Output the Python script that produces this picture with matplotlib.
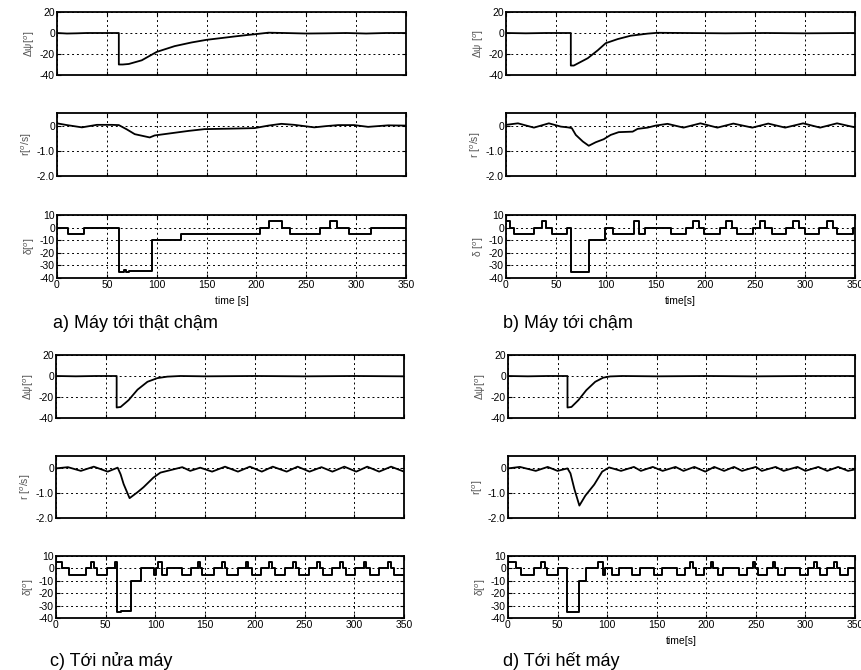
import matplotlib
matplotlib.use("Agg")
import matplotlib.pyplot as plt

plt.rcParams["font.family"] = ["Liberation Sans", "DejaVu Sans"]
plt.rcParams["mathtext.fontset"] = "custom"
plt.rcParams["mathtext.rm"] = "Liberation Sans"

W, H = 862, 670

# ---- a) Máy tới thật chậm
psi_a_t = [0, 10, 20, 30, 40, 50, 62, 62, 66, 72, 85, 100, 118, 135, 150, 165, 178, 190, 200, 212, 228, 250, 270, 290, 310, 330, 350]
psi_a_v = [0, -0.5, -0.3, 0, 0, 0, 0, -30, -30, -29.5, -26, -18, -12.5, -9, -6.5, -4.8, -3.3, -2, -1, 0.3, 0, -0.5, -0.3, 0, -0.5, 0, 0]
r_a_t = [0, 10, 25, 40, 55, 62, 70, 78, 93, 98, 115, 132, 148, 175, 198, 212, 225, 238, 258, 270, 282, 298, 312, 332, 350]
r_a_v = [0.09, 0.02, -0.07, 0.03, 0.03, 0.02, -0.15, -0.34, -0.47, -0.39, -0.3, -0.21, -0.14, -0.12, -0.1, 0.0, 0.07, 0.03, -0.07, -0.02, 0.02, 0.02, -0.05, 0.01, 0.0]
d_a_t = [0, 11, 27, 62, 67, 69, 72, 95, 124, 204, 213, 226, 234, 264, 274, 281, 293, 315, 350]
d_a_v = [0, -5, 0, -35, -34, -35, -34.5, -10, -5, 0, 5, 0, -5, 0, 5, 0, -5, 0, 0]

# ---- b) Máy tới chậm
psi_b_t = [0, 20, 40, 65, 65, 68, 82, 92, 100, 112, 125, 142, 152, 180, 220, 260, 300, 350]
psi_b_v = [0, -0.3, 0, 0, -31, -31, -24, -16.5, -9.7, -5.8, -2.6, -0.6, 0.2, 0, -0.3, 0, -0.3, 0]
r_b_t = [0, 12, 28, 43, 55, 62, 66, 70, 77, 83, 90, 98, 105, 113, 127, 132, 142, 150, 162, 178, 195, 212, 228, 247, 263, 280, 298, 315, 332, 350]
r_b_v = [0.03, 0.09, -0.08, 0.09, -0.04, -0.07, -0.1, -0.37, -0.63, -0.8, -0.66, -0.54, -0.37, -0.26, -0.24, -0.13, -0.08, 0.0, 0.07, -0.08, 0.09, -0.08, 0.08, -0.08, 0.08, -0.08, 0.09, -0.08, 0.09, -0.07]
d_b_t = [0, 4.3, 8.3, 27.7, 35.7, 40.3, 45.7, 61, 65, 83.3, 99, 107.7, 128.3, 133, 139, 165.7, 181, 187.3, 193.3, 198.3,
         214.3, 221, 226.7, 231.7, 247.7, 254.3, 260, 266.7, 281, 288.3, 294.3, 300, 314.3, 321.7, 328.3, 332.3, 347.7, 350]
d_b_v = [5, 0, -5, 0, 5, 0, -5, 0, -35, -10, 0, -5, 5, -5, 0, -5, 0, 5, 0, -5,
         0, 5, 0, -5, 0, 5, 0, -5, 0, 5, 0, -5, 0, 5, 0, -5, 0, 0]

# ---- c) Tới nửa máy
psi_c_t = [0, 20, 40, 61, 61, 65, 73, 82, 92, 102, 112, 125, 150, 200, 250, 300, 350]
psi_c_v = [0, -0.3, 0, 0, -30, -29.5, -23, -13, -5.5, -2, -0.6, 0, -0.3, 0, -0.3, 0, -0.3]
r_c_t = [0, 12, 25, 38, 52, 62, 65, 68, 74, 82, 88, 98, 105, 112, 127, 135, 145, 157, 170, 183, 195, 207, 218, 232, 243, 255, 267, 278, 290, 302, 313, 325, 337, 350]
r_c_v = [0, 0.05, -0.1, 0.07, -0.13, 0.03, -0.24, -0.63, -1.2, -0.96, -0.76, -0.37, -0.17, -0.1, 0.05, -0.1, 0.03, -0.13, 0.07, -0.13, 0.07, -0.13, 0.07, -0.13, 0.07, -0.13, 0.05, -0.13, 0.07, -0.13, 0.07, -0.13, 0.07, -0.13]
d_c_t = [0, 5.7, 13, 30, 35.5, 38, 41.5, 51, 59, 61, 65, 75, 85, 99, 101, 103, 107, 112, 127, 136,
         143, 145, 147, 158.5, 167, 170, 172, 182.6, 191, 193.6, 197, 206, 214.7, 217, 220.4, 230.4, 238.7, 241, 244.5, 254,
         263, 265.5, 269, 278, 286, 288.5, 292, 301, 309.5, 312, 315.5, 325, 334, 336.5, 340, 350]
d_c_v = [5, 0, -5, 0, 5, 0, -5, 0, 5, -35, -34, -10, 0, -5, 0, 5, -5, 0, -5, 0,
         5, 0, -5, 0, 5, 0, -5, 0, 5, 0, -5, 0, 5, 0, -5, 0, 5, 0, -5, 0,
         5, 0, -5, 0, 5, 0, -5, 0, 5, 0, -5, 0, 5, 0, -5, -5]

# ---- d) Tới hết máy
psi_d_t = [0, 20, 40, 60, 60, 64, 71, 79, 88, 96, 103, 115, 150, 200, 250, 300, 350]
psi_d_v = [0, -0.3, 0, 0, -30, -29.5, -23, -13.5, -5.5, -1.6, -0.4, 0, -0.3, 0, -0.3, 0, 0]
r_d_t = [0, 12, 28, 40, 50, 60, 63, 67, 72, 78, 87, 95, 102, 114, 127, 134, 146, 156, 169, 177, 188, 199, 208, 218, 228, 236, 250, 256, 270, 278, 292, 300, 313, 322, 333, 343, 350]
r_d_v = [0, 0.06, -0.1, 0.06, -0.1, 0, -0.2, -0.84, -1.5, -1.1, -0.65, -0.13, 0.04, -0.1, 0.06, -0.1, 0.06, -0.1, 0.06, -0.1, 0.06, -0.13, 0.06, -0.1, 0.06, -0.1, 0.06, -0.1, 0.06, -0.1, 0.06, -0.1, 0.06, -0.1, 0.06, -0.1, -0.04]
d_d_t = [0, 7.7, 13.5, 26, 33.7, 37, 39.5, 50.5, 60, 71.4, 79, 91, 96, 97.6, 104.4, 112, 124.6, 133, 147, 155,
         170, 178.5, 184, 187, 190, 197.6, 204.7, 207, 212, 217, 233, 240.7, 246.8, 249, 252.5, 261, 267, 269.4, 272.7, 279.5,
         295, 303, 308.8, 311.4, 314.8, 322, 329, 331.6, 335, 343.4, 350]
d_d_v = [5, 0, -5, 0, 5, 0, -5, 0, -35, -10, 0, 5, -5, 0, -5, 0, -5, 0, -5, 0,
         -5, 0, 5, 0, -5, 0, 5, 0, -5, 0, -5, 0, 5, 0, -5, 0, 5, 0, -5, 0,
         -5, 0, 5, 0, -5, 0, 5, 0, -5, 0, 0]

x_ticks = [0, 50, 100, 150, 200, 250, 300, 350]


def px_axes(fig, left, right, top, bottom):
    return fig.add_axes([left / W, 1 - bottom / H, (right - left) / W, (bottom - top) / H])


def style(ax, ylim, yticks, yticklabels, ylabel, show_x):
    ax.set_xlim(0, 350)
    ax.set_ylim(*ylim)
    ax.set_xticks(x_ticks)
    ax.set_yticks(yticks)
    ax.set_yticklabels(yticklabels)
    if not show_x:
        ax.set_xticklabels([])
    ax.grid(True, color="black", linestyle=(0, (2, 3)), linewidth=0.7)
    ax.tick_params(direction="in", length=3, width=0.8, labelsize=7.5, pad=1.5,
                   top=True, right=True)
    for s in ax.spines.values():
        s.set_linewidth(1.3)
    ax.set_ylabel(ylabel, fontsize=7.5, color="#555555", labelpad=2)


def panel(fig, left, right, rows, psi, r, d, labels, xlabel, caption, cap_xy):
    ax1 = px_axes(fig, left, right, *rows[0])
    ax1.plot(psi[0], psi[1], color="black", lw=1.3)
    style(ax1, (-40, 20), [-40, -20, 0, 20], ["-40", "-20", "0", "20"], labels[0], False)

    ax2 = px_axes(fig, left, right, *rows[1])
    ax2.plot(r[0], r[1], color="black", lw=1.3)
    style(ax2, (-2, 0.5), [-2, -1, 0], ["-2.0", "-1.0", "0"], labels[1], False)

    ax3 = px_axes(fig, left, right, *rows[2])
    ax3.plot(d[0], d[1], color="black", lw=1.4, drawstyle="steps-post")
    style(ax3, (-40, 10), [-40, -30, -20, -10, 0, 10],
          ["-40", "-30", "-20", "-10", "0", "10"], labels[2], True)
    if xlabel:
        ax3.set_xlabel(xlabel, fontsize=7.5, labelpad=4)

    fig.text(cap_xy[0] / W, 1 - cap_xy[1] / H, caption, fontsize=13,
             ha="left", va="baseline")


fig = plt.figure(figsize=(W / 100, H / 100), dpi=100)

rows_top = [(12, 75), (113, 176), (215, 278)]
rows_bot = [(355, 418), (456, 518), (556, 618)]

panel(fig, 57, 406, rows_top, (psi_a_t, psi_a_v), (r_a_t, r_a_v), (d_a_t, d_a_v),
      ["Δψ[$^o$]", "r[$^o$/s]", "δ[$^o$]"], "time [s]", "a) Máy tới thật chậm", (53, 328))
panel(fig, 506, 855, rows_top, (psi_b_t, psi_b_v), (r_b_t, r_b_v), (d_b_t, d_b_v),
      ["Δψ [$^o$]", "r [$^o$/s]", "δ [$^o$]"], "time[s]", "b) Máy tới chậm", (503, 328))
panel(fig, 56, 404, rows_bot, (psi_c_t, psi_c_v), (r_c_t, r_c_v), (d_c_t, d_c_v),
      ["Δψ[$^o$]", "r [$^o$/s]", "δ[$^o$]"], None, "c) Tới nửa máy", (50, 666))
panel(fig, 508, 855, rows_bot, (psi_d_t, psi_d_v), (r_d_t, r_d_v), (d_d_t, d_d_v),
      ["Δψ[$^o$]", "r[$^o$]", "δ[$^o$]"], "time[s]", "d) Tới hết máy", (503, 666))

fig.savefig("out.png", dpi=100)
